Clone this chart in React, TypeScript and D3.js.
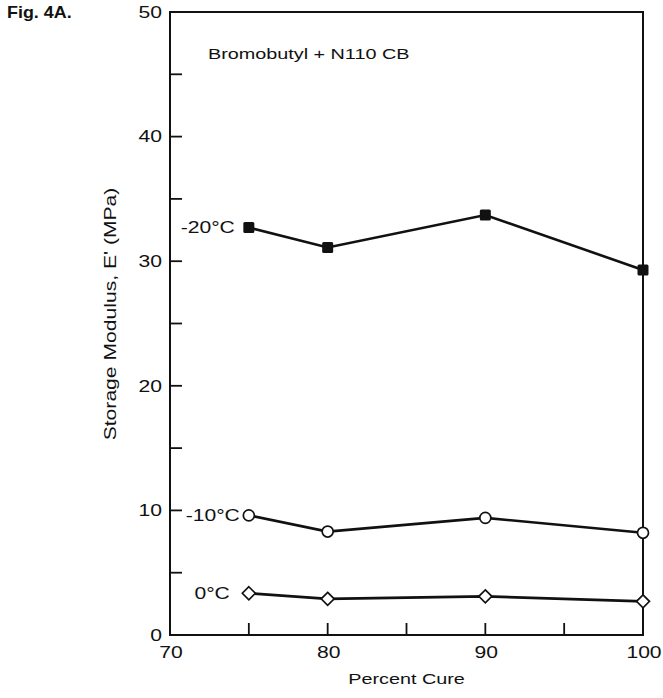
import React from "react";
import * as d3 from "d3";

const percentCure = [75, 80, 90, 100];
const minus20 = [32.7, 31.1, 33.7, 29.3];
const minus10 = [9.6, 8.3, 9.4, 8.2];
const zero = [3.35, 2.9, 3.1, 2.7];
const xTicks = [70, 80, 90, 100];
const xMinor = [75, 85, 95];
const yTicks = [0, 10, 20, 30, 40, 50];
const yMinor = [5, 15, 25, 35, 45];

const W = 663;
const H = 698;
const m = { left: 170, right: 643, top: 12, bottom: 635 };
const font = "'Liberation Sans', Arial, Helvetica, sans-serif";
const STRETCH = 1.32;

type TProps = {
  x: number;
  y: number;
  size: number;
  anchor?: "start" | "middle" | "end";
  sx?: number;
  rotate?: number;
  dy?: string;
  bold?: boolean;
  children: React.ReactNode;
};

// Text drawn in a wide face: horizontally stretched around its anchor point.
function T({ x, y, size, anchor = "start", sx = STRETCH, rotate = 0, dy, bold, children }: TProps) {
  return (
    <text
      transform={`translate(${x},${y}) rotate(${rotate}) scale(${sx},1)`}
      textAnchor={anchor}
      fontSize={size}
      dy={dy}
      fontWeight={bold ? "bold" : "normal"}
      fill="#111"
    >
      {children}
    </text>
  );
}

export default function App() {
  const x = d3.scaleLinear().domain([70, 100]).range([m.left, m.right]);
  const y = d3.scaleLinear().domain([0, 50]).range([m.bottom, m.top]);
  const line = d3
    .line<number>()
    .x((_, i) => x(percentCure[i]))
    .y((d) => y(d));

  const tickLen = 12;

  return (
    <svg
      width={W}
      height={H}
      style={{ position: "absolute", left: 0, top: 0, background: "#fff" }}
      fontFamily={font}
    >
      <rect x={0} y={0} width={W} height={H} fill="#fff" />
      {/* frame */}
      <rect
        x={m.left}
        y={m.top}
        width={m.right - m.left}
        height={m.bottom - m.top}
        fill="none"
        stroke="#111"
        strokeWidth={2}
      />
      {/* y ticks */}
      {yTicks.map((t) => (
        <g key={"y" + t}>
          {t > 0 && t < 50 && (
            <line x1={m.left} x2={m.left + tickLen} y1={y(t)} y2={y(t)} stroke="#111" strokeWidth={1.8} />
          )}
          <T x={m.left - 8} y={y(t)} dy="0.36em" anchor="end" size={16}>
            {t}
          </T>
        </g>
      ))}
      {yMinor.map((t) => (
        <line key={"ym" + t} x1={m.left} x2={m.left + tickLen} y1={y(t)} y2={y(t)} stroke="#111" strokeWidth={1.8} />
      ))}
      {/* x ticks */}
      {xTicks.map((t) => (
        <g key={"x" + t}>
          {t > 70 && t < 100 && (
            <line x1={x(t)} x2={x(t)} y1={m.bottom} y2={m.bottom - tickLen} stroke="#111" strokeWidth={1.8} />
          )}
          <T x={x(t) + 1} y={m.bottom + 23} anchor="middle" size={16}>
            {t}
          </T>
        </g>
      ))}
      {xMinor.map((t) => (
        <line key={"xm" + t} x1={x(t)} x2={x(t)} y1={m.bottom} y2={m.bottom - tickLen} stroke="#111" strokeWidth={1.8} />
      ))}
      {/* axis titles */}
      <T x={(m.left + m.right) / 2} y={684} anchor="middle" size={15}>
        Percent Cure
      </T>
      <T x={116} y={314} anchor="middle" size={16} rotate={-90}>
        Storage Modulus, E' (MPa)
      </T>
      <T x={7} y={18} size={16} sx={1.12} bold>
        Fig. 4A.
      </T>
      <T x={208} y={59} size={15}>
        Bromobutyl + N110 CB
      </T>

      {/* series lines */}
      <path d={line(minus20) ?? ""} fill="none" stroke="#111" strokeWidth={2.6} />
      <path d={line(minus10) ?? ""} fill="none" stroke="#111" strokeWidth={2.6} />
      <path d={line(zero) ?? ""} fill="none" stroke="#111" strokeWidth={2.6} />

      {/* markers */}
      {minus20.map((v, i) => (
        <rect key={"s" + i} x={x(percentCure[i]) - 5.5} y={y(v) - 5.5} width={11} height={11} fill="#111" rx={1.5} />
      ))}
      {minus10.map((v, i) => (
        <circle key={"c" + i} cx={x(percentCure[i])} cy={y(v)} r={5.5} fill="#fff" stroke="#111" strokeWidth={1.7} />
      ))}
      {zero.map((v, i) => {
        const cx = x(percentCure[i]);
        const cy = y(v);
        const r = 6.5;
        return (
          <path
            key={"d" + i}
            d={`M${cx},${cy - r}L${cx + r},${cy}L${cx},${cy + r}L${cx - r},${cy}Z`}
            fill="#fff"
            stroke="#111"
            strokeWidth={1.7}
          />
        );
      })}

      {/* series labels */}
      <T x={x(percentCure[0]) - 14} y={y(minus20[0])} dy="0.36em" anchor="end" size={16}>
        -20°C
      </T>
      <T x={x(percentCure[0]) - 9} y={y(minus10[0])} dy="0.36em" anchor="end" size={16}>
        -10°C
      </T>
      <T x={x(percentCure[0]) - 19} y={y(zero[0])} dy="0.36em" anchor="end" size={16}>
        0°C
      </T>
    </svg>
  );
}
